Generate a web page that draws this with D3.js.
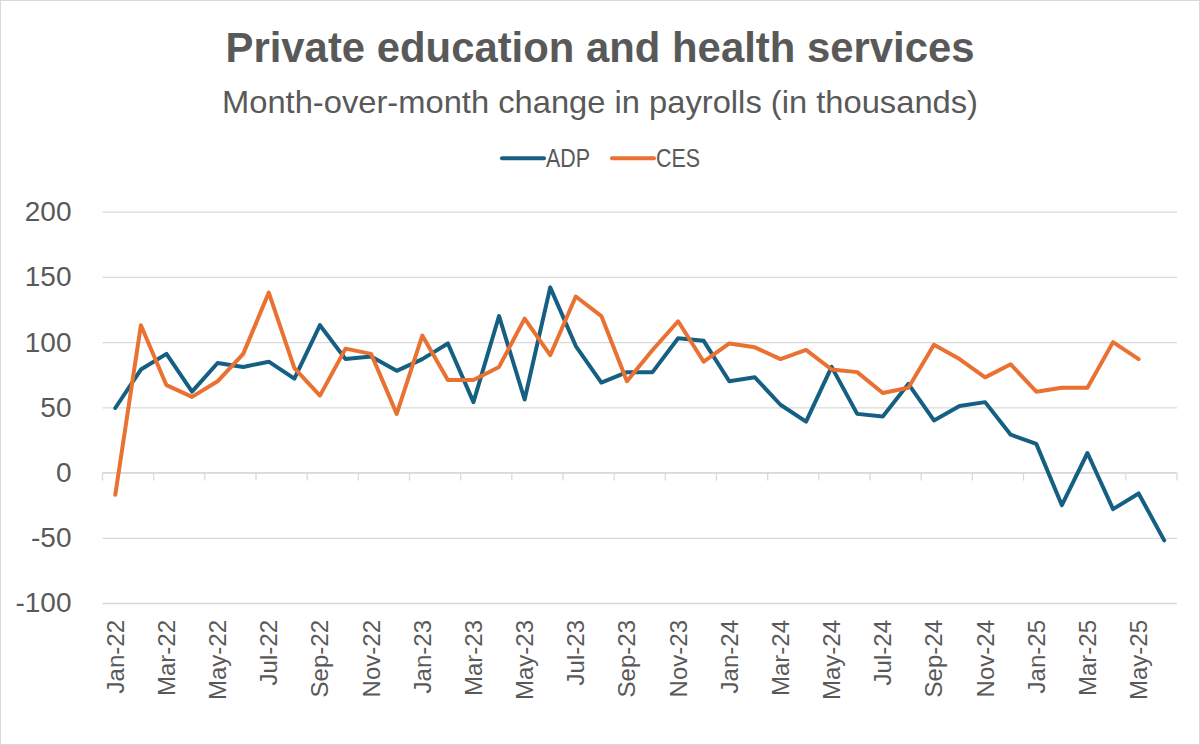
<!DOCTYPE html>
<html>
<head>
<meta charset="utf-8">
<script src="https://cdn.jsdelivr.net/npm/d3@7"></script>
<style>
  html, body { margin: 0; padding: 0; background: #fff; }
  svg { display: block; }
</style>
</head>
<body>
<svg id="chart" width="1200" height="745"></svg>
<script>
const categories = [
  "Jan-22","Feb-22","Mar-22","Apr-22","May-22","Jun-22","Jul-22","Aug-22","Sep-22","Oct-22","Nov-22","Dec-22",
  "Jan-23","Feb-23","Mar-23","Apr-23","May-23","Jun-23","Jul-23","Aug-23","Sep-23","Oct-23","Nov-23","Dec-23",
  "Jan-24","Feb-24","Mar-24","Apr-24","May-24","Jun-24","Jul-24","Aug-24","Sep-24","Oct-24","Nov-24","Dec-24",
  "Jan-25","Feb-25","Mar-25","Apr-25","May-25","Jun-25"
];
const adpValues = [
  49.5, 79, 91, 62, 84, 81, 85, 72, 113, 87, 89, 78,
  87, 99, 54, 120, 56, 142, 97, 69, 77, 77, 103, 101,
  70, 73, 52, 39, 81, 45, 43, 68, 40, 51, 54, 29,
  22, -25, 15, -28, -16, -52
];
const cesValues = [
  -17, 113, 67, 58, 70, 91, 138, 80, 59, 95, 91, 45,
  105, 71, 71, 81, 118, 90, 135, 120, 70, 94, 116, 85,
  99, 96, 87, 94, 79, 77, 61, 65, 98, 87, 73, 83,
  62, 65, 65, 100, 87
];
const yTicks = [-100, -50, 0, 50, 100, 150, 200];
const seriesNames = ["ADP", "CES"];
const seriesColors = ["#156082", "#E97132"];
const titleText = "Private education and health services";
const subtitleText = "Month-over-month change in payrolls (in thousands)";

const svg = d3.select("#chart");
const textColor = "#595959";
const gridColor = "#d9d9d9";

// border
svg.append("rect").attr("x", 0.5).attr("y", 0.5).attr("width", 1199).attr("height", 744)
  .attr("fill", "#fff").attr("stroke", gridColor).attr("stroke-width", 1);

const x = d3.scaleBand().domain(categories).range([102.5, 1177]).paddingInner(0).paddingOuter(0);
const y = d3.scaleLinear().domain([-100, 200]).range([603, 211.7]);
const cx = c => x(c) + x.bandwidth() / 2;

// title
svg.append("text").attr("x", 600).attr("y", 62).attr("text-anchor", "middle")
  .attr("font-family", "'Liberation Sans Narrow','Arial Narrow','Liberation Sans',sans-serif")
  .attr("font-weight", "bold").attr("font-size", 42).attr("fill", textColor)
  .attr("textLength", 749).attr("lengthAdjust", "spacingAndGlyphs")
  .text(titleText);
svg.append("text").attr("x", 600).attr("y", 113).attr("text-anchor", "middle")
  .attr("font-family", "'Liberation Sans Narrow','Arial Narrow','Liberation Sans',sans-serif")
  .attr("font-size", 32).attr("fill", textColor)
  .attr("textLength", 756).attr("lengthAdjust", "spacingAndGlyphs")
  .text(subtitleText);

// legend
const legendItems = [
  {name: seriesNames[0], color: seriesColors[0], x0: 502, x1: 544, tx: 546, tw: 44},
  {name: seriesNames[1], color: seriesColors[1], x0: 612, x1: 654, tx: 656, tw: 44}
];
const lg = svg.append("g");
legendItems.forEach(d => {
  lg.append("line").attr("x1", d.x0).attr("x2", d.x1).attr("y1", 158.3).attr("y2", 158.3)
    .attr("stroke", d.color).attr("stroke-width", 4).attr("stroke-linecap", "round");
  lg.append("text").attr("x", d.tx).attr("y", 166.5)
    .attr("font-family", "'Liberation Sans Narrow','Arial Narrow','Liberation Sans',sans-serif")
    .attr("font-size", 25).attr("fill", textColor)
    .attr("textLength", d.tw).attr("lengthAdjust", "spacingAndGlyphs")
    .text(d.name);
});

// y axis with gridlines
const yAxis = d3.axisLeft(y).tickValues(yTicks).tickSize(-(1177 - 102.5)).tickPadding(31)
  .tickFormat(d3.format("d"));
const yg = svg.append("g").attr("transform", "translate(102.5,0)").call(yAxis);
yg.select(".domain").remove();
yg.selectAll(".tick line").attr("stroke", gridColor).attr("stroke-width", 1.3);
yg.selectAll(".tick text").attr("font-family", "'Liberation Sans',Arial,sans-serif")
  .attr("font-size", 28).attr("fill", textColor).text(d => d < 0 ? "-" + Math.abs(d) : d);

// x axis at zero
const y0 = y(0);
svg.append("line").attr("x1", 102.5).attr("x2", 1177).attr("y1", y0).attr("y2", y0)
  .attr("stroke", gridColor).attr("stroke-width", 1.3);
const tickIdx = d3.range(0, categories.length + 1, 2);
svg.append("g").selectAll("line").data(tickIdx).join("line")
  .attr("x1", i => i < categories.length ? x(categories[i]) : x(categories[categories.length-1]) + x.bandwidth())
  .attr("x2", i => i < categories.length ? x(categories[i]) : x(categories[categories.length-1]) + x.bandwidth())
  .attr("y1", y0).attr("y2", y0 + 8)
  .attr("stroke", gridColor).attr("stroke-width", 1.3);

// x labels (every other category)
const labelCats = categories.filter((c, i) => i % 2 === 0);
svg.append("g").selectAll("text").data(labelCats).join("text")
  .attr("transform", c => `translate(${cx(c)},620) rotate(-90)`)
  .attr("text-anchor", "end").attr("dy", "0.35em")
  .attr("font-family", "'Liberation Sans',Arial,sans-serif")
  .attr("font-size", 24).attr("fill", textColor)
  .text(c => c);

// lines
const line = d3.line().x(d => cx(d.c)).y(d => y(d.v));
const series = [
  {name: seriesNames[0], color: seriesColors[0], values: adpValues},
  {name: seriesNames[1], color: seriesColors[1], values: cesValues}
];
series.forEach(s => {
  const pts = s.values.map((v, i) => ({c: categories[i], v}));
  svg.append("path").datum(pts).attr("d", line)
    .attr("fill", "none").attr("stroke", s.color).attr("stroke-width", 4)
    .attr("stroke-linejoin", "round").attr("stroke-linecap", "round");
});
</script>
</body>
</html>
